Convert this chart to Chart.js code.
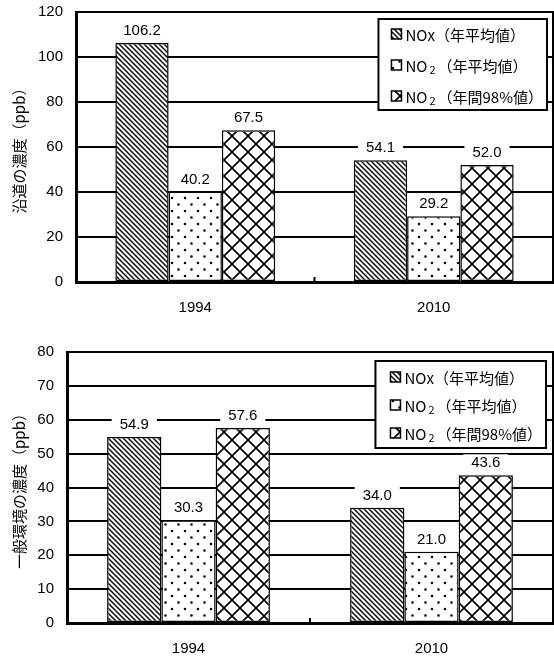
<!DOCTYPE html>
<html>
<head>
<meta charset="utf-8">
<script src="https://cdn.jsdelivr.net/npm/chart.js@4"></script>
<style>
  html, body { margin: 0; padding: 0; background: #fff; }
  .box { position: relative; width: 554px; }
</style>
</head>
<body>
<div class="box" style="height:320px"><canvas id="roadside"></canvas></div>
<div class="box" style="height:337px"><canvas id="ambient"></canvas></div>
<script>
const years = ["1994", "2010"];
const seriesLabels = ["NOx（年平均値）", "NO₂（年平均値）", "NO₂（年間98%値）"];

// 沿道 (roadside)
const roadsideNOx = [106.2, 54.1];
const roadsideNO2 = [40.2, 29.2];
const roadsideNO2p98 = [67.5, 52.0];
const roadsideMax = 120;
const roadsideStep = 20;

// 一般環境 (ambient)
const ambientNOx = [54.9, 34.0];
const ambientNO2 = [30.3, 21.0];
const ambientNO2p98 = [57.6, 43.6];
const ambientMax = 80;
const ambientStep = 10;

const NUM_FONT = '"Liberation Sans", Arial, sans-serif';
const JP_FONT = '"Noto Sans CJK JP", sans-serif';

function makePattern(kind) {
  const c = document.createElement("canvas");
  const n = kind === "diag" ? 5 : kind === "dots" ? 13 : 16;
  c.width = c.height = n; // set size first, it resets the context
  const g = c.getContext("2d");
  g.fillStyle = "#fff";
  g.fillRect(0, 0, n, n);
  g.strokeStyle = "#000";
  g.fillStyle = "#000";
  g.beginPath();
  if (kind === "diag") {
    g.lineWidth = 1.4;
    g.moveTo(-1, -1); g.lineTo(6, 6);
    g.moveTo(-1, 4); g.lineTo(1, 6);
    g.moveTo(4, -1); g.lineTo(6, 1);
    g.stroke();
  } else if (kind === "dots") {
    g.arc(3, 3, 1.3, 0, Math.PI * 2);
    g.moveTo(10.8, 9.5);
    g.arc(9.5, 9.5, 1.3, 0, Math.PI * 2);
    g.fill();
  } else {
    g.lineWidth = 1.7;
    g.moveTo(0, 0); g.lineTo(16, 16);
    g.moveTo(16, 0); g.lineTo(0, 16);
    g.stroke();
  }
  return g.createPattern(c, "repeat");
}

const fills = [makePattern("diag"), makePattern("dots"), makePattern("cross")];

// legend text, with "₂" drawn as a lowered small 2
function charStep(ctx, ch, size) {
  if (ch === "₂") {
    ctx.font = Math.round(size * 0.75) + "px " + JP_FONT;
    return ctx.measureText("2").width + 4;
  }
  ctx.font = size + "px " + JP_FONT;
  return ctx.measureText(ch).width;
}

function richWidth(ctx, text, size) {
  let w = 0;
  for (const ch of text) w += charStep(ctx, ch, size);
  return w;
}

function drawRich(ctx, text, x, y, size) {
  for (const ch of text) {
    const step = charStep(ctx, ch, size);
    if (ch === "₂") ctx.fillText("2", x + 2, y + 4);
    else ctx.fillText(ch, x, y);
    x += step;
  }
}

const valueLabels = {
  id: "valueLabels",
  afterDatasetsDraw(chart) {
    const ctx = chart.ctx;
    ctx.save();
    ctx.font = "15px " + NUM_FONT;
    ctx.textAlign = "center";
    ctx.textBaseline = "middle";
    chart.data.datasets.forEach((ds, i) => {
      chart.getDatasetMeta(i).data.forEach((bar, j) => {
        const txt = ds.data[j].toFixed(1);
        const y = bar.y - 13;
        const w = ctx.measureText(txt).width + 16;
        ctx.fillStyle = "#fff";
        ctx.fillRect(bar.x - w / 2, y - 8, w, 16);
        ctx.fillStyle = "#000";
        ctx.fillText(txt, bar.x, y + 1);
      });
    });
    ctx.restore();
  }
};

const frame = {
  id: "frame",
  afterDraw(chart) {
    const { ctx, chartArea, scales } = chart;
    ctx.save();
    ctx.strokeStyle = "#000";
    ctx.lineWidth = 2;
    ctx.beginPath();
    ctx.moveTo(chartArea.left, chartArea.top);
    ctx.lineTo(chartArea.right, chartArea.top);
    ctx.lineTo(chartArea.right, chartArea.bottom);
    // small tick between the two year groups
    const mid = (scales.x.getPixelForValue(0) + scales.x.getPixelForValue(1)) / 2;
    ctx.moveTo(mid, chartArea.bottom);
    ctx.lineTo(mid, chartArea.bottom - 5);
    ctx.stroke();
    ctx.restore();
  }
};

const boxLegend = {
  id: "boxLegend",
  afterDraw(chart, args, opts) {
    const { ctx, chartArea } = chart;
    const size = 15;
    ctx.save();
    const labels = chart.data.datasets.map((d) => d.label);
    const tw = Math.max(...labels.map((l) => richWidth(ctx, l, size)));
    const w = opts.padLeft + 10 + 4 + tw + 4;
    const x0 = chartArea.right - opts.right - w;
    const y0 = chartArea.top + opts.top;
    ctx.fillStyle = "#fff";
    ctx.fillRect(x0, y0, w, opts.height);
    ctx.strokeStyle = "#000";
    ctx.lineWidth = 2;
    ctx.strokeRect(x0, y0, w, opts.height);
    ctx.textBaseline = "middle";
    labels.forEach((l, i) => {
      const cy = y0 + opts.first + i * opts.rowH;
      ctx.fillStyle = chart.data.datasets[i].backgroundColor;
      ctx.fillRect(x0 + opts.padLeft, cy - 5, 10, 10);
      ctx.lineWidth = 1.5;
      ctx.strokeRect(x0 + opts.padLeft, cy - 5, 10, 10);
      ctx.fillStyle = "#000";
      drawRich(ctx, l, x0 + opts.padLeft + 14, cy + 1, size);
    });
    ctx.restore();
  }
};

function buildChart(canvas, values, cfg) {
  new Chart(canvas.getContext("2d"), {
    type: "bar",
    data: {
      labels: years,
      datasets: values.map((data, i) => ({
        label: seriesLabels[i],
        data,
        backgroundColor: fills[i],
        borderColor: "#000",
        borderWidth: 1.5,
        borderSkipped: false,
        categoryPercentage: 0.67,
        barPercentage: 1.0,
      })),
    },
    options: {
      responsive: true,
      maintainAspectRatio: false,
      animation: false,
      layout: { padding: { top: cfg.top, right: 1, left: 0, bottom: 0 } },
      plugins: {
        legend: { display: false },
        tooltip: { enabled: false },
        boxLegend: cfg.legend,
      },
      scales: {
        x: {
          grid: { drawOnChartArea: false, drawTicks: false },
          border: { color: "#000", width: 3 },
          ticks: { color: "#000", font: { size: 15, family: NUM_FONT }, padding: 17 },
          afterFit: (s) => { s.height = cfg.xh; },
        },
        y: {
          min: 0,
          max: cfg.max,
          ticks: { stepSize: cfg.step, color: "#000", font: { size: 15, family: NUM_FONT }, padding: 13 },
          grid: { color: "#000", lineWidth: 2, drawTicks: false },
          border: { color: "#000", width: 3 },
          title: {
            display: true,
            text: cfg.title,
            color: "#000",
            font: { size: 15, family: JP_FONT },
            padding: { top: 10, bottom: 0 },
          },
          afterFit: (s) => {
            s.width = cfg.yw;
            s.paddingTop = 0;
            s.paddingBottom = 0;
          },
        },
      },
    },
    plugins: [valueLabels, frame, boxLegend],
  });
}

document.addEventListener("DOMContentLoaded", () => {
  buildChart(document.getElementById("roadside"),
    [roadsideNOx, roadsideNO2, roadsideNO2p98],
    { max: roadsideMax, step: roadsideStep, title: "沿道の濃度（ppb）", top: 12, xh: 38, yw: 76,
      legend: { top: 7, right: 6, height: 91, first: 15, rowH: 31, padLeft: 13 } });
  buildChart(document.getElementById("ambient"),
    [ambientNOx, ambientNO2, ambientNO2p98],
    { max: ambientMax, step: ambientStep, title: "一般環境の濃度（ppb）", top: 32, xh: 34, yw: 67,
      legend: { top: 9, right: 7, height: 87, first: 16, rowH: 28, padLeft: 15 } });
});
</script>
</body>
</html>
